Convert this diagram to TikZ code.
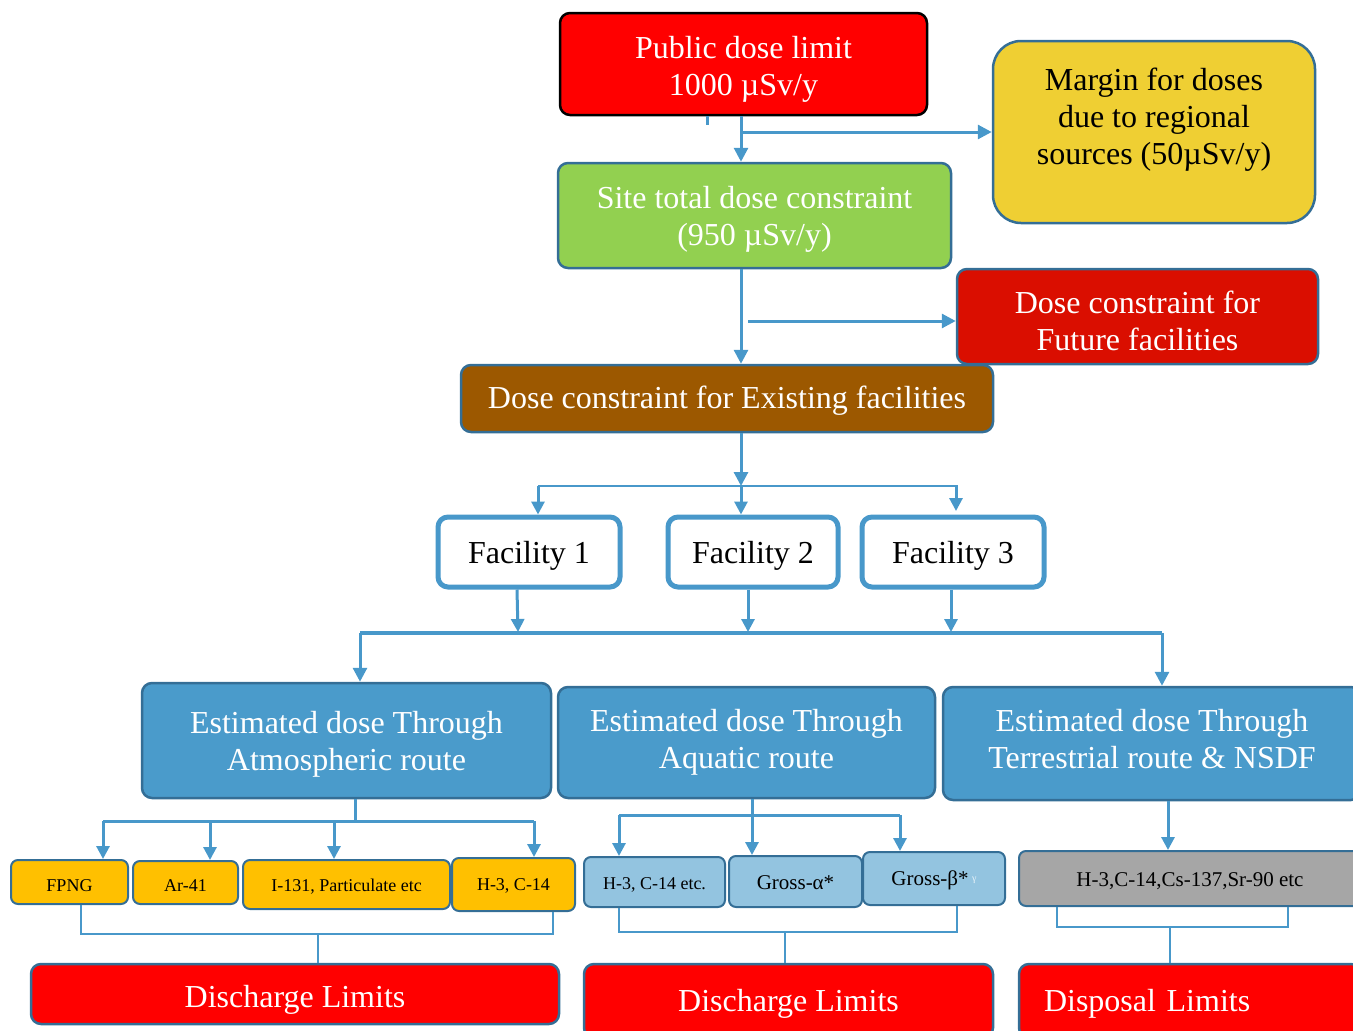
\documentclass[tikz,border=0pt]{standalone}
\usepackage{fontspec}
\setmainfont{Liberation Serif}
\usetikzlibrary{arrows.meta}
\definecolor{lineblue}{RGB}{72,152,202}
\definecolor{edgeblue}{RGB}{52,110,150}
\definecolor{estblue}{RGB}{74,155,203}
\definecolor{lightblue}{RGB}{147,196,224}
\definecolor{orangey}{RGB}{255,192,0}
\definecolor{greyfill}{RGB}{166,166,166}
\definecolor{greenfill}{RGB}{146,208,80}
\definecolor{yellowfill}{RGB}{239,207,51}
\definecolor{brownfill}{RGB}{156,88,0}
\definecolor{darkred}{RGB}{218,14,0}
\newcommand{\tx}[2][0pt]{\raisebox{-#1}[\height][\depth]{\begin{tabular}{@{}c@{}}#2\end{tabular}}}
\tikzset{
  box/.style={draw=edgeblue, line width=2.5pt, rounded corners=10pt, inner sep=0pt, align=center, font=\fontsize{32}{37}\selectfont},
  bigwhite/.style={box, text=white},
  facbox/.style={box, draw=lineblue, line width=5pt, fill=white, text=black},
  smallbox/.style={box, line width=2pt, rounded corners=7pt, text=black, font=\fontsize{18}{21}\selectfont},
  midbox/.style={smallbox, font=\fontsize{21}{24}\selectfont},
  conn/.style={draw=lineblue, line width=3pt},
  thinconn/.style={draw=lineblue, line width=2.2pt},
  arr/.style={conn, -{Triangle[length=14pt,width=14pt]}},
  sarr/.style={conn, -{Triangle[length=13pt,width=13pt]}},
}
\begin{document}
\begin{tikzpicture}[x=1pt,y=-1pt]
\useasboundingbox (0,0) rectangle (1353,1031);
% top level
\node[bigwhite, fill=red, draw=black, minimum width=367pt, minimum height=102pt] (pub) at (743.5,64) {\tx[5.5pt]{Public dose limit\\1000 µSv/y}};
\node[box, fill=yellowfill, rounded corners=28pt, minimum width=322pt, minimum height=182pt] (margin) at (1154,132) {};
\node[align=center, inner sep=0pt, font=\fontsize{32}{37}\selectfont] (margintext) at (1154,120) {Margin for doses\\due to regional\\sources (50µSv/y)};
\node[bigwhite, fill=greenfill, minimum width=393pt, minimum height=105pt] (site) at (754.5,215.5) {\tx[4.5pt]{Site total dose constraint\\(950 µSv/y)}};
\node[bigwhite, fill=darkred, minimum width=361pt, minimum height=95pt] (future) at (1137.5,316.5) {\tx[8pt]{Dose constraint for\\Future facilities}};
\node[bigwhite, fill=brownfill, minimum width=532pt, minimum height=67pt] (exist) at (727,398.5) {\tx[3pt]{Dose constraint for Existing facilities}};
% facilities
\node[facbox, minimum width=182pt, minimum height=70pt] (f1) at (529,552) {\tx[4pt]{Facility 1}};
\node[facbox, minimum width=170pt, minimum height=70pt] (f2) at (753,552) {\tx[4pt]{Facility 2}};
\node[facbox, minimum width=182pt, minimum height=70pt] (f3) at (953,552) {\tx[4pt]{Facility 3}};
% routes
\node[bigwhite, fill=estblue, minimum width=409pt, minimum height=115pt] (atm) at (346.5,740.5) {\tx[4pt]{Estimated dose Through\\Atmospheric route}};
\node[bigwhite, fill=estblue, minimum width=377pt, minimum height=111pt] (aq) at (746.5,742.5) {\tx[0.5pt]{Estimated dose Through\\Aquatic route}};
\node[bigwhite, fill=estblue, minimum width=418pt, minimum height=113pt] (terr) at (1152,743.5) {\tx[-1pt]{Estimated dose Through\\Terrestrial route \& NSDF}};
% nuclides
\node[smallbox, fill=orangey, minimum width=117pt, minimum height=44pt] (fpng) at (69.5,882) {\tx[5pt]{FPNG}};
\node[smallbox, fill=orangey, minimum width=105pt, minimum height=43pt] (ar) at (185.5,882.5) {\tx[4.5pt]{Ar-41}};
\node[smallbox, fill=orangey, minimum width=207pt, minimum height=49pt] (iod) at (346.5,884.5) {\tx[2.5pt]{I-131, Particulate etc}};
\node[smallbox, fill=orangey, minimum width=123pt, minimum height=53pt] (hc) at (513.5,884.5) {\tx[1.5pt]{H-3, C-14}};
\node[smallbox, fill=lightblue, minimum width=141pt, minimum height=50pt] (hce) at (654.5,882) {\tx[3pt]{H-3, C-14 etc.}};
\node[midbox, fill=lightblue, minimum width=133pt, minimum height=51pt] (alpha) at (795.5,881.5) {\tx[3.5pt]{Gross-α*}};
\node[midbox, fill=lightblue, minimum width=142pt, minimum height=53pt] (beta) at (934,878.5) {\tx[2.5pt]{Gross-β*\,\raisebox{4pt}{\fontsize{10}{10}\selectfont\color{white!80!lightblue}γ}}};
\node[midbox, fill=greyfill, minimum width=342pt, minimum height=55pt] (grey) at (1190,878.5) {\tx[3.5pt]{H-3,C-14,Cs-137,Sr-90 etc}};
% limits
\node[bigwhite, fill=red, minimum width=528pt, minimum height=60pt] (dl1) at (295,994) {\tx[6pt]{Discharge Limits}};
\node[bigwhite, fill=red, minimum width=409pt, minimum height=74pt] (dl2) at (788.5,1001) {\tx[3pt]{Discharge Limits}};
\node[bigwhite, fill=red, minimum width=342pt, minimum height=74pt, align=left, text width=292pt, inner xsep=25pt] (disp) at (1190,1001) {\tx[3pt]{Disposal Limits}};
% connectors top
\draw[conn] (pub.south -| 707,0) -- ++(0,9);
\draw[arr] (pub.south -| 741,0) -- (site.north -| 741,0);
\coordinate (j1) at (741,132);
\draw[arr] (j1) -- (margin.west |- j1);
\draw[arr] (site.south -| 741,0) -- (exist.north -| 741,0);
\coordinate (j2) at (748,321);
\draw[arr] (j2) -- (future.west |- j2);
% existing to facilities
\coordinate (b1) at (741,486);
\coordinate (b1l) at (538,486);
\coordinate (b1r) at (958,486);
\draw[arr] (exist.south -| 741,0) -- (b1);
\draw[thinconn] (b1l) -- (b1r);
\draw[sarr] (b1l) -- (f1.north -| b1l);
\draw[sarr] (b1) -- (f2.north -| b1);
\draw[sarr] (956,486) -- (956,511);
% facilities to routes
\coordinate (b2l) at (360,633);
\coordinate (b2r) at (1162,633);
\draw[sarr] (f1.south -| 517,0) -- (518,632);
\draw[sarr] (f2.south -| 748,0) -- (748,632);
\draw[sarr] (f3.south -| 951,0) -- (951,632);
\draw[conn, line width=4pt] (b2l) -- (b2r);
\draw[arr] (b2l) -- (atm.north -| b2l);
\draw[arr] (b2r) -- (terr.north -| b2r);
% atmospheric
\coordinate (b3c) at (355,821);
\draw[conn] (atm.south -| b3c) -- (b3c);
\draw[conn] (103,821) -- (534,821);
\draw[sarr] (103,821) -- (fpng.north -| 103,0);
\draw[sarr] (210,821) -- (ar.north -| 210,0);
\draw[sarr] (334,821) -- (iod.north -| 334,0);
\draw[sarr] (534,821) -- (hc.north -| 534,0);
% aquatic
\draw[sarr] (aq.south -| 752,0) -- (alpha.north -| 752,0);
\draw[conn] (619,815) -- (900,815);
\draw[sarr] (619,815) -- (hce.north -| 619,0);
\draw[sarr] (900,815) -- (beta.north -| 900,0);
% terrestrial
\draw[sarr] (terr.south -| 1168,0) -- (grey.north -| 1168,0);
% brackets to limits
\draw[thinconn] (fpng.south -| 81,0) -- (81,934) -- (553,934) -- (hc.south -| 553,0);
\draw[thinconn] (318,934) -- (dl1.north -| 318,0);
\draw[thinconn] (hce.south -| 619,0) -- (619,932) -- (957,932) -- (beta.south -| 957,0);
\draw[thinconn] (785,932) -- (dl2.north -| 785,0);
\draw[thinconn] (grey.south -| 1057,0) -- (1057,927) -- (1288,927) -- (grey.south -| 1288,0);
\draw[thinconn] (1170,927) -- (disp.north -| 1170,0);
\end{tikzpicture}
\end{document}
